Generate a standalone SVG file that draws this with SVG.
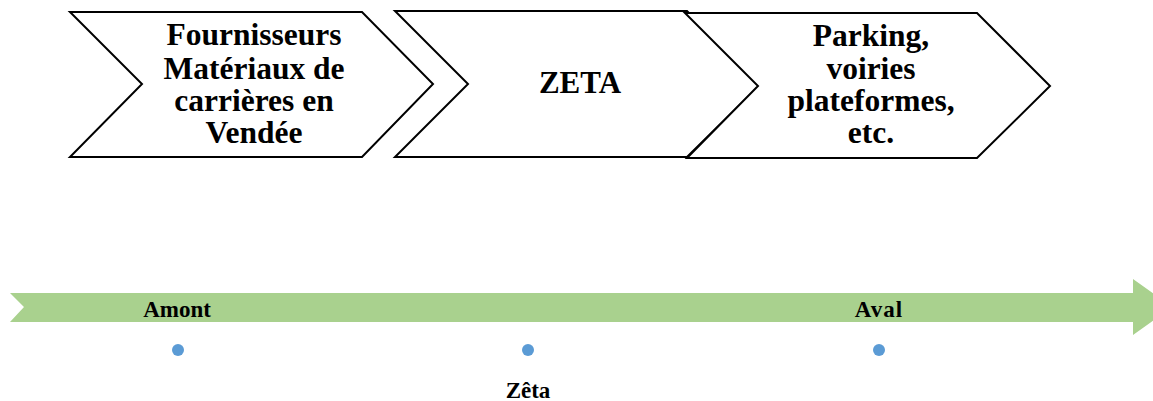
<svg xmlns="http://www.w3.org/2000/svg" width="1153" height="401" viewBox="0 0 1153 401">
<style>
.chev{fill:#fff;stroke:#000;stroke-width:2;stroke-linejoin:miter}
.t{font-family:"Liberation Serif","Times New Roman",serif;font-weight:bold;fill:#000;text-anchor:middle}
.big{font-size:31.5px}
.small{font-size:23px}
.dot{fill:#5B9BD5}
</style>
<g id="axis">
<polygon points="10,293 1133,293 1133,279 1172,307 1133,335 1133,322 10,322 24,307" fill="#A9D18E"/>
</g>
<g id="node1">
<polygon class="chev" points="70,12 362,12 433,84 362,157 70,157 142,84"/>
<text class="t big" x="254" y="45">Fournisseurs</text>
<text class="t big" x="254" y="79">Matériaux de</text>
<text class="t big" x="254" y="111">carrières en</text>
<text class="t big" x="254" y="143">Vendée</text>
</g>
<g id="node2">
<polygon class="chev" points="395,11 687,11 760,85 687,157 395,157 468,84"/>
<text class="t big" x="580" y="93" style="font-size:31px">ZETA</text>
</g>
<g id="node3">
<polygon class="chev" points="685,13 977,13 1050,86 977,158 687,158 758,86"/>
<text class="t big" x="871" y="46">Parking,</text>
<text class="t big" x="871" y="79">voiries</text>
<text class="t big" x="871" y="111">plateformes,</text>
<text class="t big" x="871" y="143">etc.</text>
</g>
<g id="labels">
<text class="t small" x="177" y="317">Amont</text>
<text class="t small" x="879" y="317" letter-spacing="1">Aval</text>
<text class="t small" x="528" y="398">Zêta</text>
</g>
<g id="points">
<circle class="dot" cx="178" cy="350" r="6"/>
<circle class="dot" cx="528" cy="350" r="6"/>
<circle class="dot" cx="879" cy="350" r="6"/>
</g>
</svg>
